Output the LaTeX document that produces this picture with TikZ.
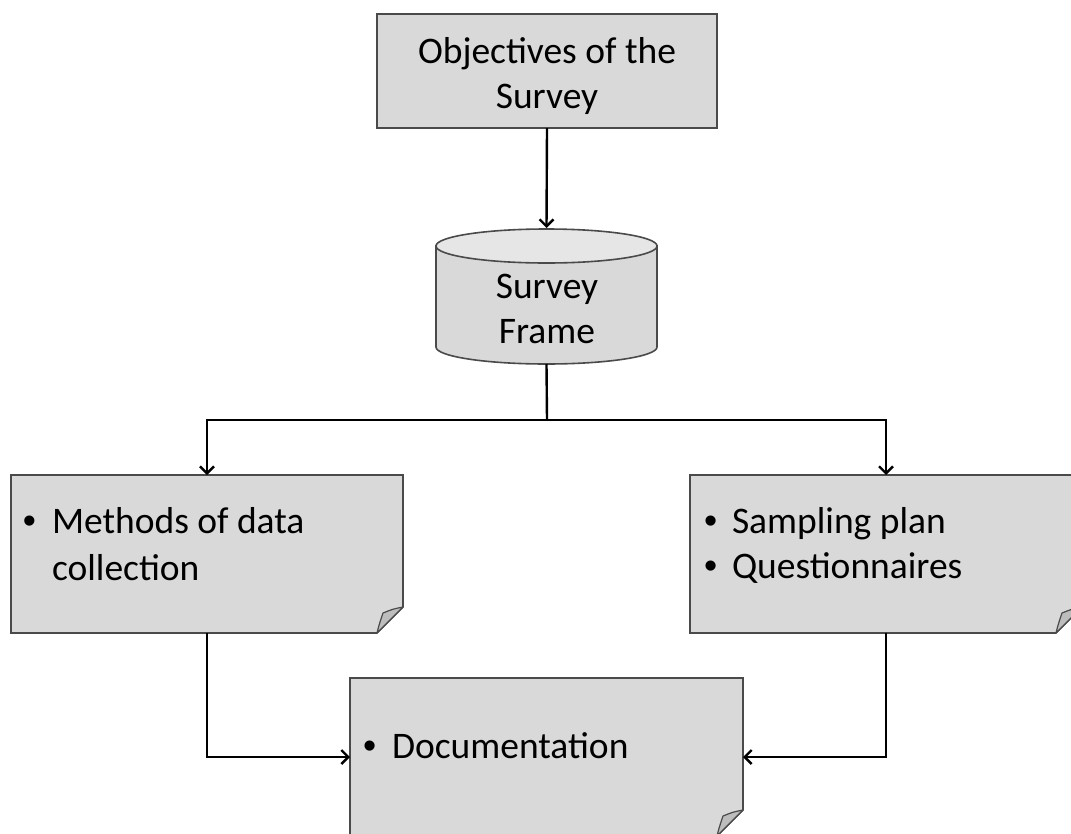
\documentclass[tikz,border=0pt]{standalone}
\usepackage{fontspec}
\setmainfont{Carlito}
\newfontfamily\bulletfont{Liberation Sans}
\usetikzlibrary{arrows.meta,calc}
\definecolor{boxfill}{HTML}{D9D9D9}
\definecolor{boxline}{HTML}{4A4A4A}
\definecolor{topfill}{HTML}{E6E6E6}
\definecolor{foldfill}{HTML}{BDBDBD}
\tikzset{
  shapebox/.style={draw=none,fill=none,inner sep=0pt,outer sep=0pt},
  boxstyle/.style={fill=boxfill,draw=boxline,line width=1.6pt},
  txt/.style={inner sep=0pt,outer sep=0pt,font=\fontsize{37.5}{45}\selectfont},
  bul/.style={inner sep=0pt,outer sep=0pt,font=\bulletfont\fontsize{37.5}{45}\selectfont},
  conn/.style={line width=2.4pt,-{Straight Barb[length=7pt,width=14pt,line width=2.4pt]}},
  plainconn/.style={line width=2.4pt},
}
\newcommand{\docshape}[1]{%
  \draw[boxstyle] (#1.north west) -- (#1.north east) -- ($(#1.south east)+(0,-26)$) -- ($(#1.south east)+(-26,0)$) -- (#1.south west) -- cycle;
  \draw[fill=foldfill,draw=boxline,line width=1.2pt,line join=round] ($(#1.south east)+(-26,0)$) .. controls ($(#1.south east)+(-24,-8)$) .. ($(#1.south east)+(-20,-20)$) .. controls ($(#1.south east)+(-10,-24)$) .. ($(#1.south east)+(0,-26)$) -- cycle;
}
\begin{document}
\begin{tikzpicture}[x=1pt,y=-1pt]
\useasboundingbox (0,0) rectangle (1071,833);
\clip (0,0) rectangle (1071,833);
% top box
\node[shapebox,minimum width=340pt,minimum height=114pt] (obj) at (547,71) {};
\draw[boxstyle] (obj.north west) rectangle (obj.south east);
\node[txt,anchor=base] (objt1) at (547,63) {Objectives of the};
\node[txt,anchor=base] (objt2) at (547,108) {Survey};
% cylinder
\node[shapebox,minimum width=221pt,minimum height=136pt] (cyl) at (546.5,296) {};
\draw[boxstyle] (436,246) -- (436,347) arc[start angle=180,end angle=360,x radius=110.5pt,y radius=17pt] -- (657,246) -- cycle;
\draw[boxstyle,fill=topfill] (546.5,246) ellipse[x radius=110.5pt,y radius=17pt];
\node[txt,anchor=base] (cylt1) at (547,298) {Survey};
\node[txt,anchor=base] (cylt2) at (547,343) {Frame};
% document boxes
\node[shapebox,minimum width=392pt,minimum height=158pt] (left) at (207,554) {};
\docshape{left}
\node[shapebox,minimum width=392pt,minimum height=158pt] (right) at (886,554) {};
\docshape{right}
\node[shapebox,minimum width=393pt,minimum height=158pt] (doc) at (546.5,757) {};
\docshape{doc}
% texts in documents
\node[bul,anchor=base west] (lb1) at (23,533) {•};
\node[txt,anchor=base west] (lt1) at (52,533) {Methods of data};
\node[txt,anchor=base west] (lt2) at (52,580) {collection};
\node[bul,anchor=base west] (rb1) at (704,533) {•};
\node[txt,anchor=base west] (rt1) at (732,533) {Sampling plan};
\node[bul,anchor=base west] (rb2) at (704,578) {•};
\node[txt,anchor=base west] (rt2) at (732,578) {Questionnaires};
\node[bul,anchor=base west] (db1) at (363,758) {•};
\node[txt,anchor=base west] (dt1) at (392,758) {Documentation};
% connectors
\coordinate (split) at (547,420);
\draw[conn] (obj.south) -- (cyl.north);
\draw[plainconn] (cyl.south) -- (split);
\draw[conn] (split) -| (left.north);
\draw[conn] (split) -| (right.north);
\draw[conn] (left.south) |- (doc.west);
\draw[conn] (right.south) |- (doc.east);
\end{tikzpicture}
\end{document}
